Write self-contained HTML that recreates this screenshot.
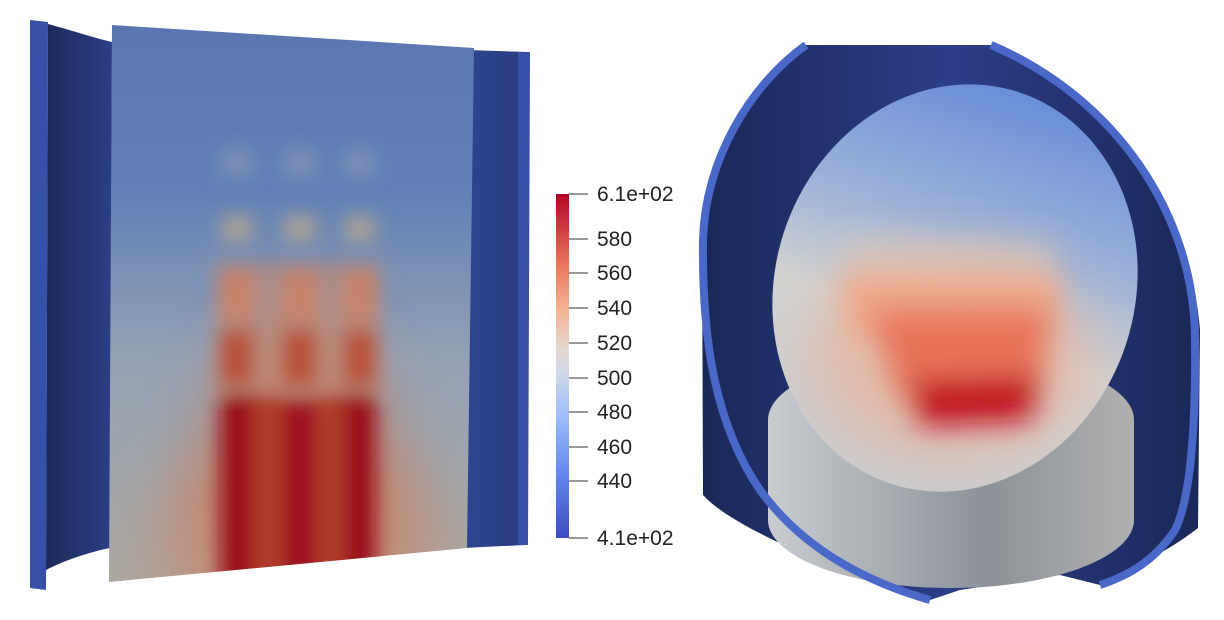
<!DOCTYPE html>
<html><head><meta charset="utf-8"><style>
html,body{margin:0;padding:0;background:#fff;width:1224px;height:620px;overflow:hidden}
svg{display:block}
text{font-family:"Liberation Sans",sans-serif;font-size:21px;fill:#222}
</style></head><body>
<svg width="1224" height="620" viewBox="0 0 1224 620" xmlns="http://www.w3.org/2000/svg">
<defs>
<filter id="b8" x="-50%" y="-50%" width="200%" height="200%"><feGaussianBlur stdDeviation="9"/></filter>
<filter id="b14" x="-50%" y="-50%" width="200%" height="200%"><feGaussianBlur stdDeviation="14"/></filter>
<filter id="b30" x="-50%" y="-50%" width="200%" height="200%"><feGaussianBlur stdDeviation="30"/></filter>
<clipPath id="lp"><polygon points="112,25 474,48 467,548 109,582"/></clipPath>
<linearGradient id="lbg" x1="0" y1="0" x2="0" y2="1">
<stop offset="0" stop-color="#5a76b2"/><stop offset="0.3" stop-color="#6180b6"/><stop offset="0.6" stop-color="#95a2b4"/><stop offset="1" stop-color="#aca8a0"/></linearGradient>
<linearGradient id="cb" x1="0" y1="1" x2="0" y2="0">
<stop offset="0" stop-color="#3b4cc0"/><stop offset="0.2" stop-color="#6a8cf0"/><stop offset="0.35" stop-color="#9cbcf8"/><stop offset="0.48" stop-color="#d0d8e8"/><stop offset="0.55" stop-color="#e6d8d0"/><stop offset="0.67" stop-color="#f5b090"/><stop offset="0.8" stop-color="#e8735a"/><stop offset="1" stop-color="#b40426"/></linearGradient>
<linearGradient id="dk" x1="0" y1="0" x2="1" y2="0">
<stop offset="0" stop-color="#1c2a5a"/><stop offset="1" stop-color="#2c3f86"/></linearGradient>
<linearGradient id="rp" x1="0" y1="0" x2="1" y2="0">
<stop offset="0" stop-color="#2e4590"/><stop offset="1" stop-color="#2a3c80"/></linearGradient>
<linearGradient id="sh" x1="0" y1="0" x2="1" y2="0">
<stop offset="0" stop-color="#1a2858"/><stop offset="0.5" stop-color="#2c3e88"/><stop offset="1" stop-color="#1a2858"/></linearGradient>
<linearGradient id="cy" x1="0" y1="0" x2="1" y2="0">
<stop offset="0" stop-color="#c8ccd0"/><stop offset="0.6" stop-color="#8c9298"/><stop offset="1" stop-color="#b0b0b0"/></linearGradient>
<linearGradient id="dg" x1="0" y1="0" x2="0" y2="1">
<stop offset="0" stop-color="#6a8ed8"/><stop offset="0.35" stop-color="#9cb2d8"/><stop offset="0.6" stop-color="#d2d2d0"/><stop offset="1" stop-color="#c8ccd0"/></linearGradient>
<clipPath id="dc"><ellipse cx="955" cy="288" rx="180" ry="206" transform="rotate(18 955 288)"/></clipPath>
</defs>

<!-- LEFT PANEL -->
<polygon points="30,20 48,22 46,590 30,588" fill="#3650a8"/>
<path d="M48,24 C70,30 95,38 112,42 L110,548 C90,552 65,560 46,570 Z" fill="url(#dk)"/>
<polygon points="466,50 528,52 526,545 462,548" fill="url(#rp)"/>
<polygon points="518,52 530,52 528,545 518,545" fill="#3550a6"/>
<g clip-path="url(#lp)">
<rect x="100" y="20" width="380" height="570" fill="url(#lbg)"/>
<g filter="url(#b30)">
<ellipse cx="298" cy="540" rx="140" ry="120" fill="#c88a70" opacity="0.7"/>
<ellipse cx="298" cy="470" rx="95" ry="150" fill="#c67050" opacity="0.6"/>
</g>
<g filter="url(#b8)">
<rect x="221" y="150" width="32" height="26" fill="#7e90b6"/>
<rect x="283" y="150" width="33" height="26" fill="#7e90b6"/>
<rect x="344" y="150" width="31" height="26" fill="#7e90b6"/>
<rect x="221" y="216" width="32" height="26" fill="#a8a094"/>
<rect x="283" y="216" width="33" height="26" fill="#a8a094"/>
<rect x="344" y="216" width="31" height="26" fill="#a8a094"/>
<rect x="215" y="262" width="166" height="130" fill="#c68a70" opacity="0.6"/>
<rect x="221" y="270" width="32" height="50" fill="#c9836a"/>
<rect x="283" y="270" width="33" height="50" fill="#c9836a"/>
<rect x="344" y="270" width="31" height="50" fill="#c9836a"/>
<rect x="221" y="330" width="32" height="55" fill="#b8503a"/>
<rect x="283" y="330" width="33" height="55" fill="#b8503a"/>
<rect x="344" y="330" width="31" height="55" fill="#b8503a"/>
<rect x="253" y="395" width="30" height="190" fill="#b03c2c"/>
<rect x="316" y="395" width="28" height="190" fill="#b03c2c"/>
<rect x="221" y="395" width="32" height="195" fill="#9a0c1e"/>
<rect x="283" y="400" width="33" height="190" fill="#9e1020"/>
<rect x="344" y="395" width="31" height="195" fill="#9a0c1e"/>
</g>
</g>

<!-- COLORBAR -->
<rect x="556" y="194" width="13" height="344" fill="url(#cb)"/>
<g stroke="#333" stroke-width="1">
<line x1="569" y1="194" x2="588" y2="194"/><line x1="569" y1="239" x2="588" y2="239"/>
<line x1="569" y1="273" x2="588" y2="273"/><line x1="569" y1="308" x2="588" y2="308"/>
<line x1="569" y1="343" x2="588" y2="343"/><line x1="569" y1="378" x2="588" y2="378"/>
<line x1="569" y1="412" x2="588" y2="412"/><line x1="569" y1="447" x2="588" y2="447"/>
<line x1="569" y1="481" x2="588" y2="481"/><line x1="569" y1="538" x2="588" y2="538"/>
</g>
<text x="597" y="201">6.1e+02</text><text x="597" y="246">580</text>
<text x="597" y="280">560</text><text x="597" y="315">540</text>
<text x="597" y="350">520</text><text x="597" y="385">500</text>
<text x="597" y="419">480</text><text x="597" y="454">460</text>
<text x="597" y="488">440</text><text x="597" y="545">4.1e+02</text>

<!-- RIGHT PANEL -->
<path d="M806,45 L991,45 C1100,80 1190,200 1200,330 L1198,528 C1170,550 1130,570 1100,585 L1060,575 L960,590 L930,600 C820,565 730,525 703,495 L702,240 C705,160 750,85 806,45 Z" fill="url(#sh)"/>
<path d="M768,420 A183,68 0 0 1 1134,420 L1134,520 A183,68 0 0 1 768,520 Z" fill="url(#cy)"/>
<ellipse cx="955" cy="288" rx="180" ry="206" transform="rotate(18 955 288)" fill="url(#dg)"/>
<g clip-path="url(#dc)">
<g filter="url(#b30)"><ellipse cx="950" cy="360" rx="140" ry="100" fill="#e8b49c" opacity="0.75"/></g>
<g filter="url(#b14)">
<path d="M845,240 L1055,240 L1055,275 L845,275 Z" fill="#e0c4b0" opacity="0.6"/>
<path d="M840,275 L1060,275 L1055,340 L850,340 Z" fill="#eea88a"/>
<path d="M870,310 L1050,310 L1040,390 L900,400 Z" fill="#e8735a"/>
<path d="M910,380 L1040,375 L1030,420 L920,425 Z" fill="#c0101e"/>
</g>
</g>
<path d="M806,45 C750,85 705,160 703,240 C702,330 712,420 760,490 C800,545 860,580 930,600" fill="none" stroke="#4a68c8" stroke-width="8"/>
<path d="M991,45 C1110,95 1195,210 1195,340 C1196,430 1190,500 1175,530 C1155,560 1130,575 1100,585" fill="none" stroke="#4a68c8" stroke-width="8"/>
</svg>
</body></html>
